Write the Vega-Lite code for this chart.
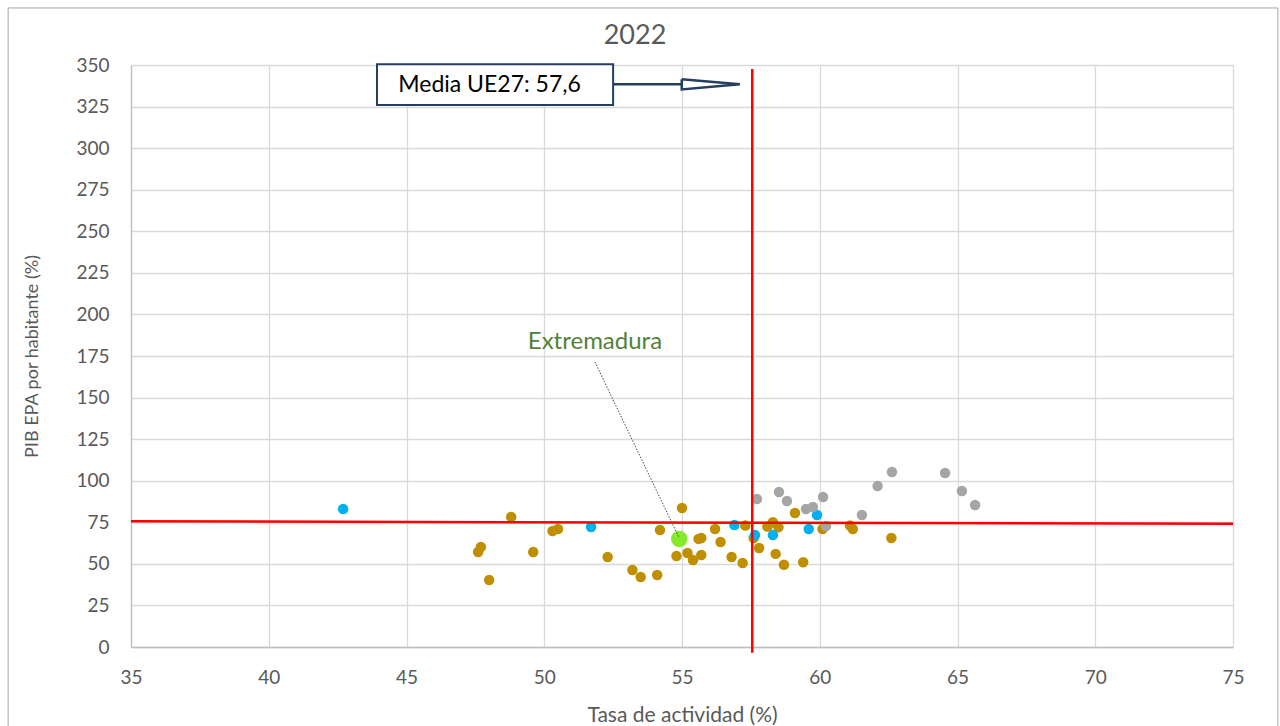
{
  "$schema": "https://vega.github.io/schema/vega-lite/v6.json",
  "width": 1102,
  "height": 582,
  "autosize": {"type": "none"},
  "padding": {"left": 131, "top": 65, "right": 47, "bottom": 79},
  "background": "white",
  "title": {"text": "2022", "fontSize": 27, "font": "Lato", "fontWeight": "normal", "color": "#595959", "anchor": "middle", "offset": -43, "dx": -47},
  "datasets": {
    "puntos": [
      {"tasa": 47.6, "pib": 57.1, "serie": "A"},
      {"tasa": 47.7, "pib": 60.1, "serie": "A"},
      {"tasa": 48.0, "pib": 40.3, "serie": "A"},
      {"tasa": 48.8, "pib": 78.2, "serie": "A"},
      {"tasa": 49.6, "pib": 57.1, "serie": "A"},
      {"tasa": 50.3, "pib": 69.8, "serie": "A"},
      {"tasa": 50.5, "pib": 71.0, "serie": "A"},
      {"tasa": 52.3, "pib": 54.1, "serie": "A"},
      {"tasa": 53.2, "pib": 46.3, "serie": "A"},
      {"tasa": 53.5, "pib": 42.1, "serie": "A"},
      {"tasa": 54.1, "pib": 43.3, "serie": "A"},
      {"tasa": 54.2, "pib": 70.4, "serie": "A"},
      {"tasa": 54.8, "pib": 54.7, "serie": "A"},
      {"tasa": 55.0, "pib": 83.6, "serie": "A"},
      {"tasa": 55.2, "pib": 56.5, "serie": "A"},
      {"tasa": 55.4, "pib": 52.3, "serie": "A"},
      {"tasa": 55.6, "pib": 65.0, "serie": "A"},
      {"tasa": 55.7, "pib": 65.5, "serie": "A"},
      {"tasa": 55.7, "pib": 55.3, "serie": "A"},
      {"tasa": 56.2, "pib": 71.0, "serie": "A"},
      {"tasa": 56.4, "pib": 63.1, "serie": "A"},
      {"tasa": 56.8, "pib": 54.1, "serie": "A"},
      {"tasa": 57.2, "pib": 50.5, "serie": "A"},
      {"tasa": 57.3, "pib": 73.0, "serie": "A"},
      {"tasa": 57.6, "pib": 65.5, "serie": "A"},
      {"tasa": 57.8, "pib": 59.5, "serie": "A"},
      {"tasa": 58.1, "pib": 72.5, "serie": "A"},
      {"tasa": 58.3, "pib": 75.0, "serie": "A"},
      {"tasa": 58.5, "pib": 72.0, "serie": "A"},
      {"tasa": 58.4, "pib": 56.0, "serie": "A"},
      {"tasa": 58.7, "pib": 49.5, "serie": "A"},
      {"tasa": 59.1, "pib": 80.6, "serie": "A"},
      {"tasa": 59.4, "pib": 51.0, "serie": "A"},
      {"tasa": 60.1, "pib": 71.0, "serie": "A"},
      {"tasa": 61.1, "pib": 73.0, "serie": "A"},
      {"tasa": 61.2, "pib": 71.0, "serie": "A"},
      {"tasa": 62.6, "pib": 65.5, "serie": "A"},
      {"tasa": 57.72, "pib": 89.0, "serie": "C"},
      {"tasa": 58.52, "pib": 93.2, "serie": "C"},
      {"tasa": 58.81, "pib": 87.8, "serie": "C"},
      {"tasa": 59.5, "pib": 83.0, "serie": "C"},
      {"tasa": 59.75, "pib": 84.2, "serie": "C"},
      {"tasa": 60.12, "pib": 90.2, "serie": "C"},
      {"tasa": 60.23, "pib": 72.8, "serie": "C"},
      {"tasa": 61.53, "pib": 79.4, "serie": "C"},
      {"tasa": 62.1, "pib": 96.8, "serie": "C"},
      {"tasa": 62.62, "pib": 105.2, "serie": "C"},
      {"tasa": 64.55, "pib": 104.6, "serie": "C"},
      {"tasa": 65.16, "pib": 93.8, "serie": "C"},
      {"tasa": 65.64, "pib": 85.4, "serie": "C"},
      {"tasa": 42.7, "pib": 83.0, "serie": "B"},
      {"tasa": 51.7, "pib": 72.2, "serie": "B"},
      {"tasa": 56.9, "pib": 73.4, "serie": "B"},
      {"tasa": 57.65, "pib": 67.3, "serie": "B"},
      {"tasa": 58.3, "pib": 67.3, "serie": "B"},
      {"tasa": 59.6, "pib": 71.0, "serie": "B"},
      {"tasa": 59.9, "pib": 79.4, "serie": "B"},
      {"tasa": 54.9, "pib": 65.0, "serie": "Extremadura"}
    ],
    "mediaPib": [
      {"tasa": 35, "pib": 75.6},
      {"tasa": 75, "pib": 74.1}
    ],
    "mediaTasa": [
      {"tasa": 57.55, "pib": 347.6, "pib2": -3.4}
    ],
    "marco": [
      {"x1": 30.54, "x2": 76.63, "y1": 384.3, "y2": -50}
    ],
    "caja": [
      {"x1": 43.93, "x2": 52.5, "y1": 350.5, "y2": 325.9, "xt": 44.7, "yt": 338.0, "texto": "Media UE27: 57,6"}
    ],
    "flechaLinea": [
      {"x1": 52.5, "x2": 54.99, "y": 338.4}
    ],
    "flechaPunta": [
      {"tasa": 54.99, "pib": 341.5, "orden": 1},
      {"tasa": 57.1, "pib": 338.4, "orden": 2},
      {"tasa": 54.99, "pib": 335.3, "orden": 3},
      {"tasa": 54.99, "pib": 341.5, "orden": 4}
    ],
    "etiqueta": [
      {"tasa": 51.84, "pib": 183.4, "texto": "Extremadura", "tasa2": 54.9, "pib2": 65.5, "tasaL": 51.84, "pibL": 171.4}
    ]
  },
  "layer": [
    {
      "data": {"name": "marco"},
      "mark": {"type": "rect", "fill": null, "fillOpacity": 0, "stroke": "#a6a6a6", "strokeWidth": 1},
      "encoding": {
        "x": {"field": "x1", "type": "quantitative", "scale": {"domain": [35, 75], "nice": false, "zero": false}, "axis": {"values": [35, 40, 45, 50, 55, 60, 65, 70, 75], "title": "Tasa de actividad (%)", "labelPadding": 21, "titlePadding": 17, "titleFontSize": 21, "labelFlush": false, "grid": true}},
        "x2": {"field": "x2"},
        "y": {"field": "y1", "type": "quantitative", "scale": {"domain": [0, 350], "nice": false, "zero": true}, "axis": {"values": [0, 25, 50, 75, 100, 125, 150, 175, 200, 225, 250, 275, 300, 325, 350], "title": "PIB EPA por habitante (%)", "labelPadding": 22, "titlePadding": 34, "titleFontSize": 18, "labelFlush": false, "grid": true}},
        "y2": {"field": "y2"}
      }
    },
    {
      "data": {"name": "puntos"},
      "mark": {"type": "circle", "opacity": 1},
      "encoding": {
        "x": {"field": "tasa", "type": "quantitative"},
        "y": {"field": "pib", "type": "quantitative"},
        "color": {"field": "serie", "type": "nominal", "scale": {"domain": ["A", "B", "C", "Extremadura"], "range": ["#BF8F00", "#00B0F0", "#A5A5A5", "#86EA2C"]}, "legend": null},
        "size": {"condition": {"test": "datum.serie === 'Extremadura'", "value": 270}, "value": 110},
        "order": {"field": "serie", "type": "nominal"}
      }
    },
    {
      "data": {"name": "mediaPib"},
      "mark": {"type": "line", "color": "#FF0000", "strokeWidth": 2.5},
      "encoding": {
        "x": {"field": "tasa", "type": "quantitative"},
        "y": {"field": "pib", "type": "quantitative"}
      }
    },
    {
      "data": {"name": "mediaTasa"},
      "mark": {"type": "rule", "color": "#FF0000", "strokeWidth": 2.5},
      "encoding": {
        "x": {"field": "tasa", "type": "quantitative"},
        "y": {"field": "pib", "type": "quantitative"},
        "y2": {"field": "pib2"}
      }
    },
    {
      "data": {"name": "etiqueta"},
      "mark": {"type": "rule", "color": "#385723", "strokeWidth": 1, "strokeDash": [1.5, 1.5]},
      "encoding": {
        "x": {"field": "tasaL", "type": "quantitative"},
        "y": {"field": "pibL", "type": "quantitative"},
        "x2": {"field": "tasa2"},
        "y2": {"field": "pib2"}
      }
    },
    {
      "data": {"name": "etiqueta"},
      "mark": {"type": "text", "color": "#548235", "fontSize": 24, "font": "Lato", "align": "center", "baseline": "middle"},
      "encoding": {
        "x": {"field": "tasa", "type": "quantitative"},
        "y": {"field": "pib", "type": "quantitative"},
        "text": {"field": "texto"}
      }
    },
    {
      "data": {"name": "caja"},
      "mark": {"type": "rect", "fill": "white", "stroke": "#243F60", "strokeWidth": 2},
      "encoding": {
        "x": {"field": "x1", "type": "quantitative"},
        "x2": {"field": "x2"},
        "y": {"field": "y1", "type": "quantitative"},
        "y2": {"field": "y2"}
      }
    },
    {
      "data": {"name": "caja"},
      "mark": {"type": "text", "color": "#000000", "fontSize": 23, "font": "Lato", "align": "left", "baseline": "middle"},
      "encoding": {
        "x": {"field": "xt", "type": "quantitative"},
        "y": {"field": "yt", "type": "quantitative"},
        "text": {"field": "texto"}
      }
    },
    {
      "data": {"name": "flechaLinea"},
      "mark": {"type": "rule", "color": "#243F60", "strokeWidth": 2.5},
      "encoding": {
        "x": {"field": "x1", "type": "quantitative"},
        "x2": {"field": "x2"},
        "y": {"field": "y", "type": "quantitative"}
      }
    },
    {
      "data": {"name": "flechaPunta"},
      "mark": {"type": "line", "color": "#243F60", "strokeWidth": 2.5, "strokeJoin": "miter"},
      "encoding": {
        "x": {"field": "tasa", "type": "quantitative"},
        "y": {"field": "pib", "type": "quantitative"},
        "order": {"field": "orden", "type": "quantitative"}
      }
    }
  ],
  "config": {
    "view": {"stroke": null},
    "font": "Lato",
    "axis": {
      "gridColor": "#d9d9d9",
      "gridWidth": 1.3,
      "domainColor": "#bfbfbf",
      "domainWidth": 1.3,
      "ticks": false,
      "labelColor": "#595959",
      "titleColor": "#595959",
      "labelFontSize": 19,
      "titleFontSize": 19,
      "titleFontWeight": "normal",
      "labelFont": "Lato",
      "titleFont": "Lato"
    }
  }
}
